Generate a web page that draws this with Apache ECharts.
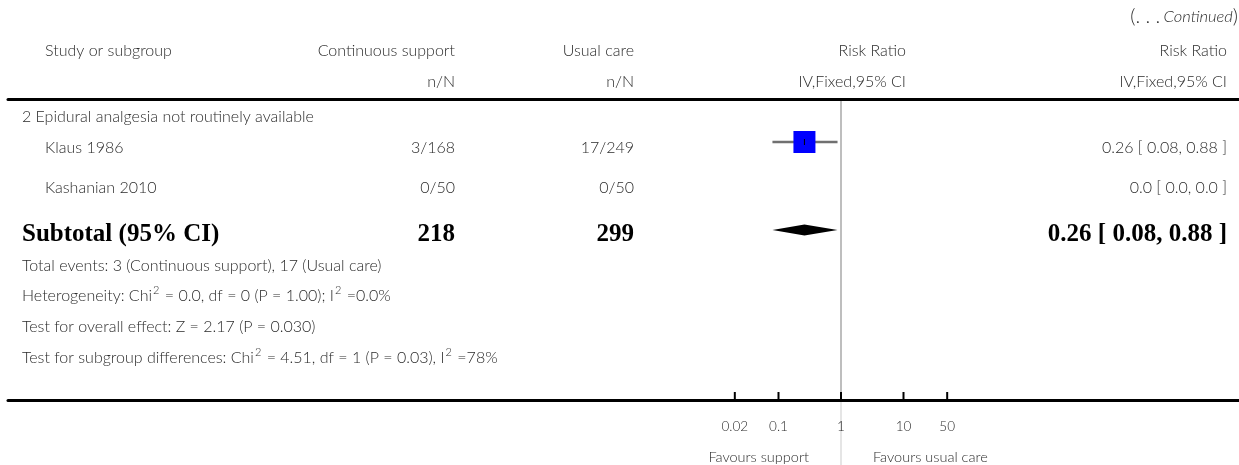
<!DOCTYPE html>
<html><head><meta charset="utf-8">
<script src="https://cdn.jsdelivr.net/npm/echarts@6/dist/echarts.min.js"></script>
<style>html,body{margin:0;padding:0;background:#fff}#c{width:1239px;height:465px}</style>
</head><body><div id="c"></div>
<script>
// ---------------- data ----------------
const continuedNote = ['(. . .', 'Continued', ')'];
const headerCols = ['Study or subgroup', 'Continuous support', 'Usual care', 'Risk Ratio', 'Risk Ratio'];
const headerSub = ['n/N', 'n/N', 'IV,Fixed,95% CI', 'IV,Fixed,95% CI'];
const subgroupTitle = '2 Epidural analgesia not routinely available';
const studyNames = ['Klaus 1986', 'Kashanian 2010'];
const supportEvents = ['3/168', '0/50'];
const usualEvents = ['17/249', '0/50'];
const studyRR = [0.26, null];
const studyLow = [0.08, null];
const studyHigh = [0.88, null];
const studyCI = ['0.26 [ 0.08, 0.88 ]', '0.0 [ 0.0, 0.0 ]'];
const subtotalLabel = 'Subtotal (95% CI)';
const subtotalTotals = ['218', '299'];
const subtotalRR = 0.26, subtotalLow = 0.08, subtotalHigh = 0.88;
const subtotalCI = '0.26 [ 0.08, 0.88 ]';
// '^' marks a superscript 2
const footnotes = [
  'Total events: 3 (Continuous support), 17 (Usual care)',
  'Heterogeneity: Chi^ = 0.0, df = 0 (P = 1.00); I^ =0.0%',
  'Test for overall effect: Z = 2.17 (P = 0.030)',
  'Test for subgroup differences: Chi^ = 4.51, df = 1 (P = 0.03), I^ =78%'
];
const tickValues = [0.02, 0.1, 1, 10, 50];
const tickLabels = ['0.02', '0.1', '1', '10', '50'];
const favoursLabels = ['Favours support', 'Favours usual care'];

// ---------------- layout (pixels / styles) ----------------
const W = 1239, H = 465;
const gridLeft = 8, gridTop = 99, gridBottomY = 400;
const oneX = 841, pxPerDecade = 62.5;
const logMin = Math.pow(10, -(oneX - gridLeft) / pxPerDecade);
const logMax = Math.pow(10, (W - oneX) / pxPerDecade);
const yRange = gridBottomY - gridTop;
const studyMarkRow = [43, null];   // y within plot grid
const subtotalMarkRow = 131;
const studyTextY = [148, 188];
const colX = { name: 45, title: 22, sup: 455, usual: 634, rrMid: 906, rrRight: 1227 };
const rowY = { cont: 17, h1: 51, h2: 82, title: 117, subtotal: 235, foot0: 263.5, footStep: 30.7, tickLbl: 427, fav: 457 };
const TXT = '#2b2b2b';
const REG = '300 16px Lato';
const BOLD = '700 25px "Liberation Serif"';
const TICKF = '300 13.5px Lato';
const FAVF = '300 14.5px Lato';

function txt(text, x, y, align, font, fill) {
  return {
    type: 'text', x: x, y: y, silent: true,
    style: { text: text, fill: fill || TXT, font: font || REG, textAlign: align || 'left', align: align || 'left',
             textVerticalAlign: 'middle', verticalAlign: 'middle' }
  };
}
function richFoot(text, x, y) {
  const parts = text.split('^');
  let s = '';
  parts.forEach(function (p, i) {
    s += '{n|' + p + '}';
    if (i < parts.length - 1) s += '{s|2}';
  });
  return {
    type: 'text', x: x, y: y, silent: true,
    style: { text: s, textAlign: 'left', align: 'left', textVerticalAlign: 'middle', verticalAlign: 'middle',
      rich: {
        n: { font: REG, fill: TXT, lineHeight: 20, verticalAlign: 'bottom' },
        s: { font: '300 11px Lato', fill: TXT, lineHeight: 20, verticalAlign: 'top', padding: [1, 1, 0, 1] }
      } }
  };
}

const graphics = [];
graphics.push({
  type: 'text', x: W - 1, y: rowY.cont, silent: true,
  style: {
    text: '{a|' + continuedNote[0] + '} {b|' + continuedNote[1] + '}{a|' + continuedNote[2] + '}',
    textAlign: 'right', align: 'right', textVerticalAlign: 'middle', verticalAlign: 'middle',
    rich: { a: { font: '300 20px Lato', fill: TXT }, b: { font: 'italic 300 16.5px Lato', fill: TXT } }
  }
});
graphics.push(txt(headerCols[0], colX.name, rowY.h1, 'left'));
graphics.push(txt(headerCols[1], colX.sup, rowY.h1, 'right'));
graphics.push(txt(headerCols[2], colX.usual, rowY.h1, 'right'));
graphics.push(txt(headerCols[3], colX.rrMid, rowY.h1, 'right'));
graphics.push(txt(headerCols[4], colX.rrRight, rowY.h1, 'right'));
graphics.push(txt(headerSub[0], colX.sup, rowY.h2, 'right'));
graphics.push(txt(headerSub[1], colX.usual, rowY.h2, 'right'));
graphics.push(txt(headerSub[2], colX.rrMid, rowY.h2, 'right'));
graphics.push(txt(headerSub[3], colX.rrRight, rowY.h2, 'right'));
graphics.push(txt(subgroupTitle, colX.title, rowY.title, 'left'));
studyNames.forEach(function (n, i) {
  graphics.push(txt(n, colX.name, studyTextY[i], 'left'));
  graphics.push(txt(supportEvents[i], colX.sup, studyTextY[i], 'right'));
  graphics.push(txt(usualEvents[i], colX.usual, studyTextY[i], 'right'));
  graphics.push(txt(studyCI[i], colX.rrRight, studyTextY[i], 'right'));
});
graphics.push(txt(subtotalLabel, colX.title, rowY.subtotal, 'left', BOLD, '#000'));
graphics.push(txt(subtotalTotals[0], colX.sup, rowY.subtotal, 'right', BOLD, '#000'));
graphics.push(txt(subtotalTotals[1], colX.usual, rowY.subtotal, 'right', BOLD, '#000'));
graphics.push(txt(subtotalCI, colX.rrRight, rowY.subtotal, 'right', BOLD, '#000'));
footnotes.forEach(function (f, i) {
  graphics.push(richFoot(f, colX.title, rowY.foot0 + i * rowY.footStep));
});

// ---------------- series data built from arrays ----------------
const studyData = [];
studyRR.forEach(function (v, i) {
  if (v != null) studyData.push([v, studyLow[i], studyHigh[i], studyMarkRow[i]]);
});
const subtotalData = [[subtotalRR, subtotalLow, subtotalHigh, subtotalMarkRow]];

const chart = echarts.init(document.getElementById('c'), null, { renderer: 'canvas' });
chart.setOption({
  animation: false,
  backgroundColor: '#fff',
  grid: { left: gridLeft, right: 0, top: gridTop, bottom: H - gridBottomY },
  xAxis: [
    { type: 'log', logBase: 10, min: logMin, max: logMax, z: 5, position: 'bottom',
      axisLine: { show: true, onZero: false, lineStyle: { color: '#000', width: 3 } },
      axisTick: { show: false }, axisLabel: { show: false }, splitLine: { show: false } },
    { type: 'value', position: 'top', min: 0, max: 1, z: 5,
      axisLine: { show: true, onZero: false, lineStyle: { color: '#000', width: 3 } },
      axisTick: { show: false }, axisLabel: { show: false }, splitLine: { show: false } }
  ],
  yAxis: { type: 'value', min: 0, max: yRange, inverse: true, show: false },
  graphic: graphics,
  series: [
    { // line of no effect
      type: 'custom', xAxisIndex: 0, silent: true, z: 1,
      data: [[1]],
      renderItem: function (params, api) {
        const t = api.coord([api.value(0), 0]);
        const b = api.coord([api.value(0), yRange]);
        return { type: 'group', children: [
          { type: 'line', shape: { x1: t[0], y1: t[1], x2: b[0], y2: b[1] }, style: { stroke: '#a8a8a8', lineWidth: 1.5 } },
          { type: 'line', shape: { x1: b[0], y1: b[1], x2: b[0], y2: api.getHeight() }, style: { stroke: '#dcdcdc', lineWidth: 1.5 } }
        ] };
      }
    },
    { // axis ticks and labels
      type: 'custom', xAxisIndex: 0, silent: true, z: 6,
      data: tickValues.map(function (v, i) { return [v, i]; }),
      renderItem: function (params, api) {
        const p = api.coord([api.value(0), yRange]);
        return { type: 'group', children: [
          { type: 'rect', shape: { x: p[0] - 1, y: p[1] - 8, width: 2, height: 8 }, style: { fill: '#000' } },
          { type: 'text', x: p[0], y: rowY.tickLbl,
            style: { text: tickLabels[api.value(1)], fill: TXT, font: TICKF, textAlign: 'center', align: 'center', textVerticalAlign: 'middle', verticalAlign: 'middle' } }
        ] };
      }
    },
    { // favours labels
      type: 'custom', xAxisIndex: 0, silent: true, z: 6,
      data: [[1]],
      renderItem: function (params, api) {
        const p = api.coord([api.value(0), yRange]);
        return { type: 'group', children: [
          { type: 'text', x: p[0] - 32, y: rowY.fav, style: { text: favoursLabels[0], fill: TXT, font: FAVF, textAlign: 'right', align: 'right', textVerticalAlign: 'middle', verticalAlign: 'middle' } },
          { type: 'text', x: p[0] + 32, y: rowY.fav, style: { text: favoursLabels[1], fill: TXT, font: FAVF, textAlign: 'left', align: 'left', textVerticalAlign: 'middle', verticalAlign: 'middle' } }
        ] };
      }
    },
    { // study effects
      type: 'custom', xAxisIndex: 0, silent: true, z: 4,
      data: studyData,
      renderItem: function (params, api) {
        const c = api.coord([api.value(0), api.value(3)]);
        const l = api.coord([api.value(1), api.value(3)]);
        const h = api.coord([api.value(2), api.value(3)]);
        const s = 22;
        return { type: 'group', children: [
          { type: 'line', shape: { x1: l[0], y1: l[1], x2: h[0], y2: h[1] }, style: { stroke: '#707070', lineWidth: 2.5 } },
          { type: 'rect', shape: { x: c[0] - s / 2, y: c[1] - s / 2, width: s, height: s }, style: { fill: '#0000ff' } },
          { type: 'line', shape: { x1: c[0], y1: c[1] - 3, x2: c[0], y2: c[1] + 3 }, style: { stroke: '#000', lineWidth: 1 } }
        ] };
      }
    },
    { // subtotal diamond
      type: 'custom', xAxisIndex: 0, silent: true, z: 4,
      data: subtotalData,
      renderItem: function (params, api) {
        const c = api.coord([api.value(0), api.value(3)]);
        const l = api.coord([api.value(1), api.value(3)]);
        const h = api.coord([api.value(2), api.value(3)]);
        const hh = 5.5;
        return { type: 'polygon', shape: { points: [[l[0], c[1]], [c[0], c[1] - hh], [h[0], c[1]], [c[0], c[1] + hh]] }, style: { fill: '#000' } };
      }
    }
  ]
});
</script>
</body></html>
